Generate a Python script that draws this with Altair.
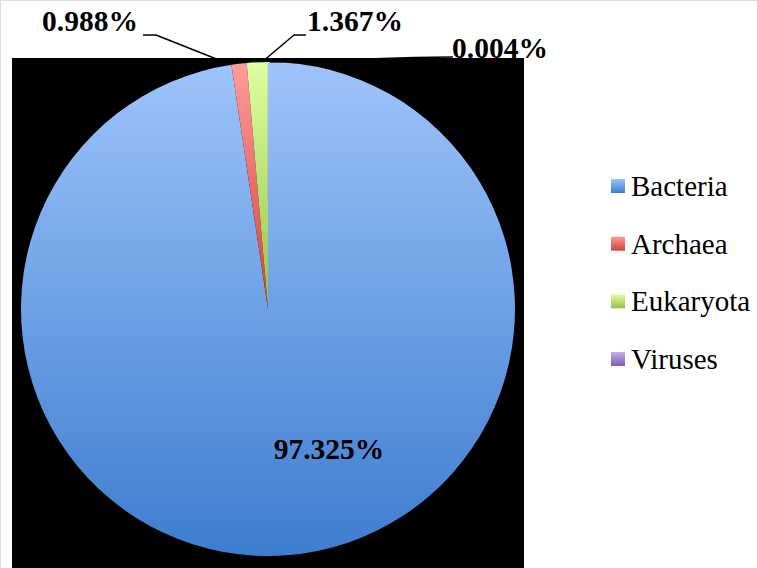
import altair as alt
import pandas as pd

# ---- data ----
categories = ["Bacteria", "Archaea", "Eukaryota", "Viruses"]
percents = [97.325, 0.988, 1.367, 0.004]
order = [1, 2, 3, 4]

# gradient colours (top, bottom) per category
grad_top = ["#9EC4FB", "#FF9C9A", "#DEFFA2", "#C5B0E8"]
grad_bot = ["#3D7DCF", "#D3403D", "#98C147", "#7C5CAE"]

df = pd.DataFrame({"name": categories, "value": percents, "order": order})

FONT = "Liberation Serif"
CX, CY, R = 268, 309, 247


def grad(i):
    return alt.Gradient(
        gradient="linear",
        stops=[alt.GradientStop(color=grad_top[i], offset=0),
               alt.GradientStop(color=grad_bot[i], offset=1)],
        x1=0, x2=0, y1=0, y2=1,
    )


base = alt.Chart(df).transform_joinaggregate(
    total="sum(value)"
).transform_window(
    cum="sum(value)", sort=[alt.SortField("order")], frame=[None, 0]
).transform_calculate(
    end="datum.cum / datum.total * 100",
    start="(datum.cum - datum.value) / datum.total * 100",
    label="format(datum.value, '.3f') + '%'",
)

# black background rectangle
bg = alt.Chart(df).mark_rect(color="black").encode(
    x=alt.value(12), x2=alt.value(524), y=alt.value(58), y2=alt.value(568)
).transform_filter(alt.datum.order == 1)

layers = [bg]

# pie slices, each with its own gradient
for i, c in enumerate(categories):
    layers.append(
        base.transform_filter(alt.datum.name == c).mark_arc(
            radius=R, fill=grad(i)
        ).encode(
            theta=alt.Theta("start:Q", scale=alt.Scale(domain=[0, 100], range=[0, 6.283185307])),
            theta2="end:Q",
            x=alt.value(CX), y=alt.value(CY),
        )
    )

# leader lines
segments = [
    (143, 35, 156, 35), (156, 35, 224, 62),
    (306, 35, 294, 35), (294, 35, 262, 62),
    (453, 57, 415, 57.5), (415, 57.5, 270, 62),
]
for (a, b, c2, d) in segments:
    layers.append(
        alt.Chart(df).transform_filter(alt.datum.order == 1).mark_rule(
            color="black", strokeWidth=1.5
        ).encode(x=alt.value(a), y=alt.value(b), x2=alt.value(c2), y2=alt.value(d))
    )

# value labels
label_pos = {"Bacteria": (329, 450), "Archaea": (90, 22), "Eukaryota": (355, 22), "Viruses": (500, 49)}
for c in categories:
    px, py = label_pos[c]
    layers.append(
        base.transform_filter(alt.datum.name == c).mark_text(
            font=FONT, fontSize=29.5, fontWeight="bold", color="black",
            align="center", baseline="middle"
        ).encode(text="label:N", x=alt.value(px), y=alt.value(py))
    )

# manual legend
legend_y = alt.Y("name:N", scale=alt.Scale(domain=categories, type="point", range=[186, 359], padding=0), axis=None)
for i, c in enumerate(categories):
    layers.append(
        alt.Chart(df).transform_filter(alt.datum.name == c).mark_square(
            size=196, fill=grad(i), opacity=1
        ).encode(x=alt.value(618), y=legend_y)
    )
layers.append(
    alt.Chart(df).mark_text(
        font=FONT, fontSize=29, fontWeight="normal", color="black",
        align="left", baseline="middle", dy=1
    ).encode(x=alt.value(631), y=legend_y, text="name:N")
)

chart = alt.layer(*layers).properties(
    width=757, height=568,
    autosize=alt.AutoSizeParams(type="none"),
    padding=0,
).configure_view(stroke=None).configure(background="white")

chart.save("out.html", embed_options={"renderer": "svg", "actions": False})
